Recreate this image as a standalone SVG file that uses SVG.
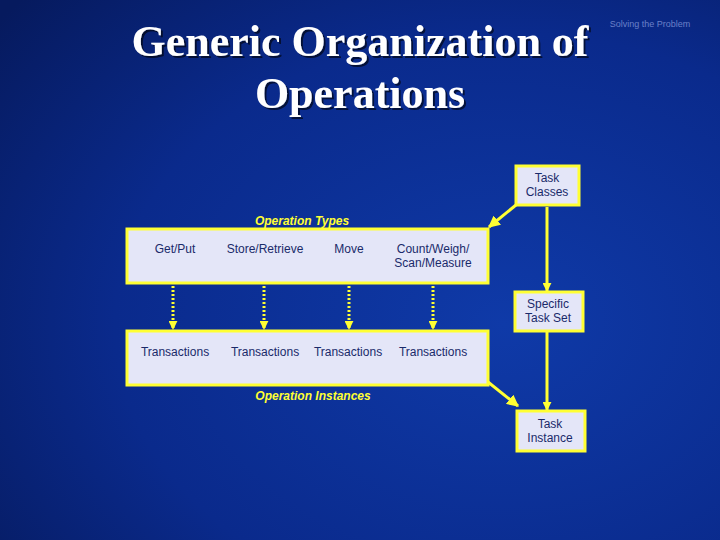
<svg xmlns="http://www.w3.org/2000/svg" width="720" height="540" viewBox="0 0 720 540">
<defs>
<radialGradient id="bg" cx="0.7" cy="0.6" r="0.9">
<stop offset="0" stop-color="#0f3aa8"/><stop offset="0.6" stop-color="#0a2a8c"/><stop offset="1" stop-color="#061a5e"/>
</radialGradient>
<filter id="sh" x="-5%" y="-20%" width="110%" height="140%"><feDropShadow dx="2" dy="2" stdDeviation="0.5" flood-color="#000" flood-opacity="0.6"/></filter>
<marker id="ah" viewBox="0 0 10 10" refX="9" refY="5" markerWidth="3" markerHeight="3" orient="auto"><path d="M0,0L10,5L0,10z" fill="#ffff33"/></marker>
<marker id="ah2" viewBox="0 0 10 10" refX="9" refY="5" markerWidth="4" markerHeight="4" orient="auto"><path d="M0,0L10,5L0,10z" fill="#ffff33"/></marker>
</defs>
<style>
.box{fill:#e4e6f8;stroke:#ffff33;stroke-width:3}
.t{font-family:"Liberation Sans",Arial,sans-serif;font-size:12px;fill:#1a2a6a;text-anchor:middle}
.lab{font-family:"Liberation Sans",Arial,sans-serif;font-size:12px;font-style:italic;font-weight:bold;fill:#ffff33;text-anchor:middle}
.c{stroke:#ffff33;stroke-width:3;fill:none}
.d{stroke:#ffff33;stroke-width:3;stroke-dasharray:2 2;fill:none}
</style>
<rect width="720" height="540" fill="url(#bg)"/>
<g font-family="Liberation Serif,serif" font-weight="bold" font-size="44" text-anchor="middle" fill="#ffffff" filter="url(#sh)">
<text x="360" y="56">Generic Organization of</text>
<text x="360" y="108">Operations</text>
</g>
<text x="650" y="27" font-family="Liberation Sans,sans-serif" font-size="9" fill="#6a80c8" text-anchor="middle">Solving the Problem</text>
<g id="connectors">
<path class="c" d="M516,205L489,227" marker-end="url(#ah2)"/>
<path class="c" d="M488,382L518,406" marker-end="url(#ah2)"/>
<path class="c" d="M547,207L547,291" marker-end="url(#ah)"/>
<path class="c" d="M547,332L547,410" marker-end="url(#ah)"/>
<path class="d" d="M173,270L173,329" marker-end="url(#ah)"/>
<path class="d" d="M264,270L264,329" marker-end="url(#ah)"/>
<path class="d" d="M349,270L349,329" marker-end="url(#ah)"/>
<path class="d" d="M433,270L433,329" marker-end="url(#ah)"/>
</g>
<g id="types">
<rect class="box" x="127" y="229" width="361" height="54"/>
<text class="lab" x="302" y="225">Operation Types</text>
<text class="t" x="175" y="253">Get/Put</text>
<text class="t" x="265" y="253">Store/Retrieve</text>
<text class="t" x="349" y="253">Move</text>
<text class="t" x="433" y="253">Count/Weigh/</text>
<text class="t" x="433" y="267">Scan/Measure</text>
</g>
<g id="instances">
<rect class="box" x="127" y="331" width="361" height="54"/>
<text class="lab" x="313" y="400">Operation Instances</text>
<text class="t" x="175" y="356">Transactions</text>
<text class="t" x="265" y="356">Transactions</text>
<text class="t" x="348" y="356">Transactions</text>
<text class="t" x="433" y="356">Transactions</text>
</g>
<g id="taskclasses"><rect class="box" x="516" y="166" width="63" height="39"/><text class="t" x="547" y="182">Task</text><text class="t" x="547" y="196">Classes</text></g>
<g id="specific"><rect class="box" x="515" y="292" width="68" height="39"/><text class="t" x="548" y="308">Specific</text><text class="t" x="548" y="322">Task Set</text></g>
<g id="instance"><rect class="box" x="517" y="411" width="68" height="40"/><text class="t" x="550" y="428">Task</text><text class="t" x="550" y="442">Instance</text></g>
</svg>
